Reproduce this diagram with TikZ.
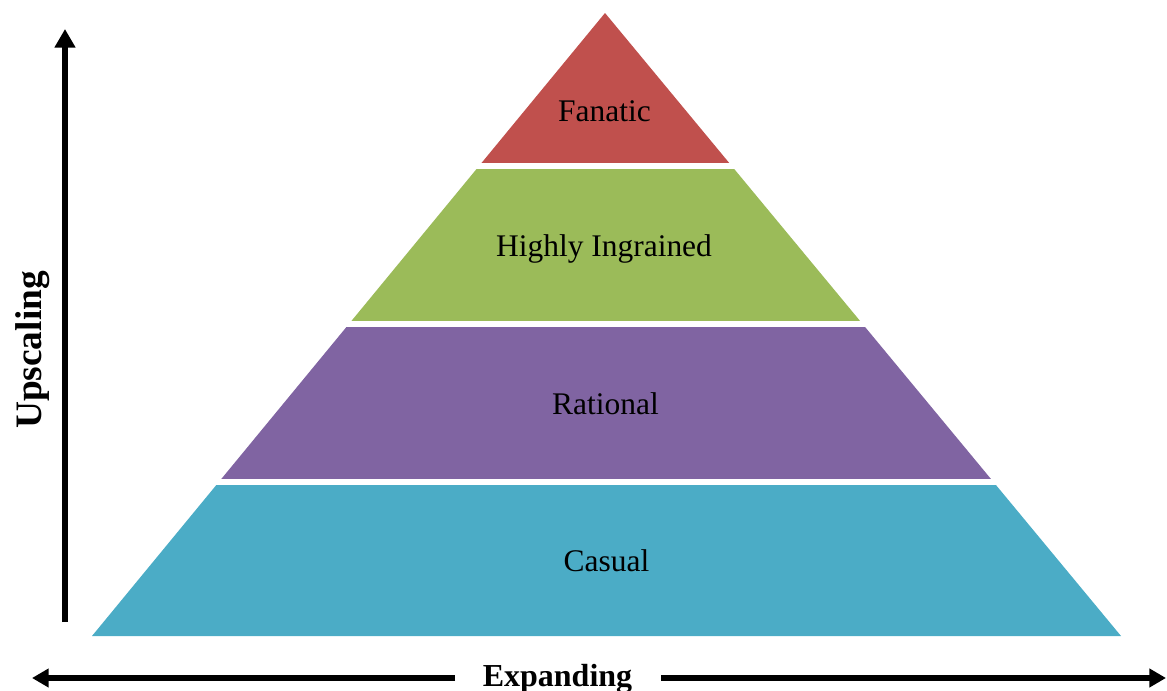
\documentclass[tikz,border=0pt]{standalone}
\usepackage{fontspec}
\setmainfont{Liberation Serif}
\usetikzlibrary{arrows.meta}
\definecolor{fanred}{HTML}{C0504D}
\definecolor{inggreen}{HTML}{9BBB59}
\definecolor{ratpurple}{HTML}{8064A2}
\definecolor{casblue}{HTML}{4BACC6}
\tikzset{
  layerlabel/.style={anchor=base, inner sep=0pt, font=\fontsize{23.6}{28}\selectfont, text=black},
  axislabel/.style={anchor=base, inner sep=0pt, font=\bfseries\fontsize{24}{28}\selectfont},
  vaxis/.style={line width=4.5pt, -{Triangle[width=15pt,length=14pt]}},
  haxis/.style={line width=3.8pt, -{Triangle[width=13.5pt,length=12.5pt]}}
}
\begin{document}
\begin{tikzpicture}[x=0.75pt,y=-0.75pt]
\useasboundingbox (0,0) rectangle (1167,691);
% pyramid layers
\begin{scope}
  \clip (605,13) -- (1121,636) -- (92,636) -- cycle;
  \fill[fanred]    (0,13)  rectangle (1167,163);
  \fill[inggreen]  (0,169) rectangle (1167,321);
  \fill[ratpurple] (0,327) rectangle (1167,479);
  \fill[casblue]   (0,485) rectangle (1167,636.5);
\end{scope}
% labels
\node[layerlabel] (fan) at (604.5,122) {Fanatic};
\node[layerlabel] (ing) at (604,257) {Highly Ingrained};
\node[layerlabel] (rat) at (605.5,414) {Rational};
\node[layerlabel] (cas) at (606.5,571) {Casual};
% axes
\coordinate (vbot) at (65,622);
\coordinate (vtop) at (65,29);
\draw[vaxis] (vbot) -- (vtop);
\node[axislabel, rotate=90, font=\bfseries\fontsize{28}{32}\selectfont] (up) at (41,350) {Upscaling};
\node[axislabel] (exp) at (557.5,686) {Expanding};
\coordinate (hl1) at (455,678);
\coordinate (hl2) at (32,678);
\coordinate (hr1) at (661,678);
\coordinate (hr2) at (1166,678);
\draw[haxis] (hl1) -- (hl2);
\draw[haxis] (hr1) -- (hr2);
\end{tikzpicture}
\end{document}
